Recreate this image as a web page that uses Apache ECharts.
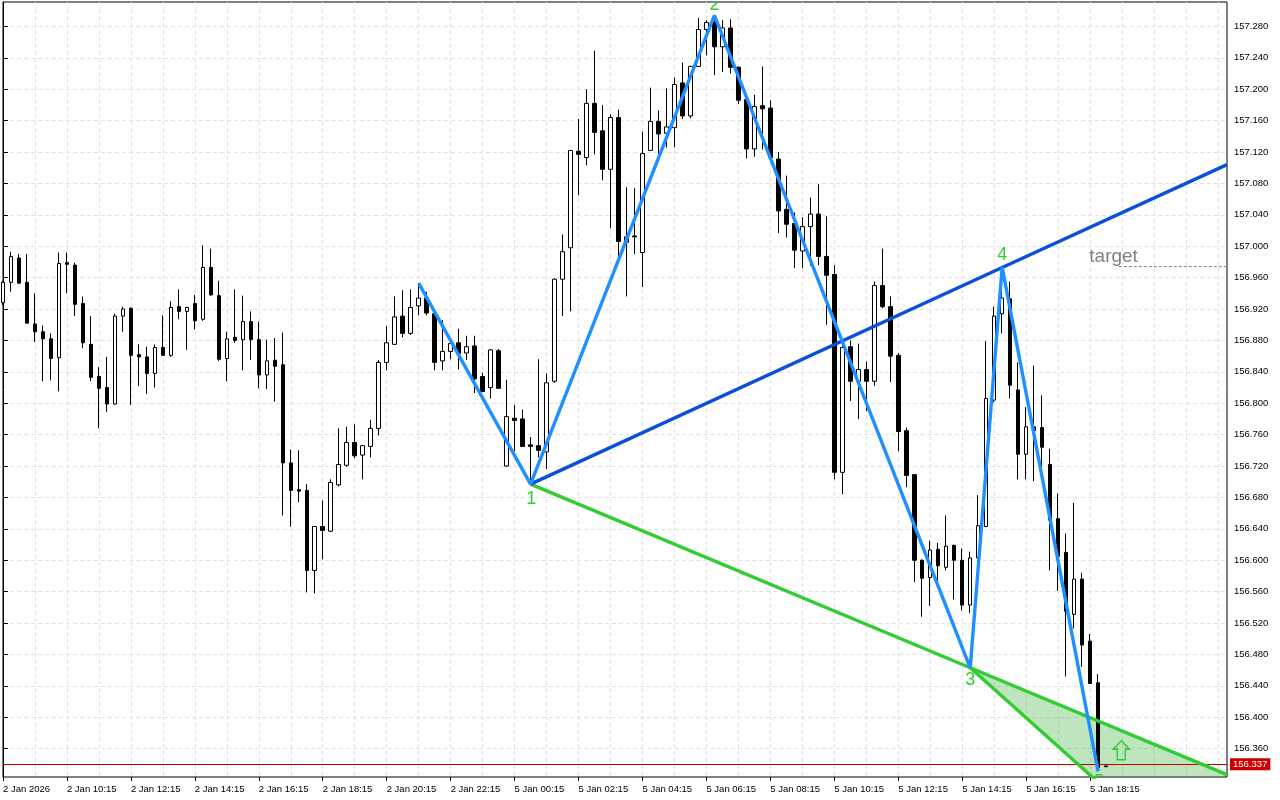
<!DOCTYPE html>
<html>
<head>
<meta charset="UTF-8" />
<script src="https://cdn.jsdelivr.net/npm/echarts@6/dist/echarts.min.js"></script>
<style>
  html, body { margin: 0; padding: 0; background: #fff; }
  #chart { width: 1280px; height: 800px; }
</style>
</head>
<body>
<div id="chart"></div>
<script>
// 15 minute bars, one entry per bar
var opens = [
  156.928,156.954,156.985,156.954,156.901,156.891,156.882,156.858,156.979,156.976,
  156.927,156.875,156.834,156.820,156.799,156.911,156.921,156.862,156.859,156.838,
  156.871,156.861,156.923,156.917,156.927,156.907,156.973,156.937,156.857,156.884,
  156.881,156.904,156.881,156.836,156.855,156.849,156.724,156.690,156.689,156.587,
  156.643,156.637,156.696,156.721,156.750,156.734,156.745,156.768,156.852,156.875,
  156.911,156.889,156.924,156.934,156.914,156.854,156.866,156.877,156.864,156.873,
  156.834,156.820,156.867,156.720,156.781,156.780,156.747,156.746,156.738,156.828,
  156.958,156.998,157.121,157.113,157.182,157.147,157.098,157.164,157.005,157.013,
  156.992,157.122,157.159,157.144,157.151,157.208,157.166,157.229,157.276,157.285,
  157.254,157.278,157.228,157.187,157.124,157.179,157.176,157.111,157.047,157.029,
  156.994,157.025,157.041,156.987,156.964,156.712,156.872,156.828,156.843,156.828,
  156.950,156.923,156.861,156.765,156.709,156.600,156.578,156.614,156.591,156.619,
  156.600,156.543,156.603,156.643,156.804,156.914,156.933,156.817,156.735,156.770,
  156.769,156.722,156.653,156.610,156.531,156.576,156.497,156.444,156.338
];
var highs = [
  156.956,156.993,156.990,156.990,156.940,156.899,156.889,156.992,156.992,156.979,
  156.936,156.911,156.846,156.859,156.914,156.923,156.922,156.875,156.872,156.875,
  156.912,156.930,156.945,156.923,156.938,157.001,156.997,156.956,156.891,156.945,
  156.937,156.917,156.904,156.881,156.883,156.890,156.741,156.740,156.697,156.643,
  156.676,156.703,156.768,156.770,156.773,156.747,156.779,156.855,156.898,156.936,
  156.944,156.945,156.953,156.942,156.914,156.906,156.883,156.895,156.886,156.886,
  156.839,156.869,156.869,156.830,156.798,156.792,156.757,156.856,156.838,156.959,
  157.015,157.122,157.162,157.200,157.249,157.180,157.168,157.174,157.075,157.074,
  157.146,157.202,157.173,157.201,157.215,157.234,157.230,157.291,157.288,157.294,
  157.288,157.289,157.229,157.187,157.193,157.229,157.186,157.120,157.090,157.043,
  157.037,157.062,157.079,157.038,156.976,156.876,156.880,156.876,156.853,156.955,
  156.997,156.936,156.864,156.769,156.710,156.601,156.625,156.622,156.657,156.620,
  156.615,156.611,156.683,156.879,156.923,156.948,156.955,156.852,156.795,156.848,
  156.810,156.742,156.685,156.634,156.673,156.584,156.506,156.455,156.338
];
var lows = [
  156.925,156.942,156.952,156.902,156.878,156.828,156.829,156.815,156.940,156.911,
  156.870,156.828,156.768,156.789,156.798,156.891,156.798,156.822,156.812,156.820,
  156.861,156.859,156.907,156.868,156.894,156.905,156.937,156.854,156.828,156.877,
  156.842,156.855,156.819,156.818,156.802,156.657,156.643,156.674,156.559,156.558,
  156.601,156.636,156.694,156.719,156.730,156.703,156.731,156.759,156.842,156.875,
  156.884,156.887,156.912,156.912,156.842,156.842,156.856,156.843,156.855,156.813,
  156.814,156.806,156.819,156.719,156.739,156.745,156.697,156.731,156.716,156.826,
  156.911,156.917,157.065,157.103,157.117,157.084,157.023,156.987,156.936,156.990,
  156.948,157.122,157.117,157.126,157.126,157.162,157.163,157.229,157.243,157.218,
  157.222,157.220,157.181,157.112,157.114,157.123,157.112,157.017,157.011,156.972,
  156.972,156.975,156.976,156.900,156.703,156.684,156.803,156.780,156.790,156.822,
  156.921,156.827,156.739,156.693,156.572,156.528,156.542,156.572,156.587,156.550,
  156.536,156.533,156.602,156.642,156.801,156.889,156.806,156.703,156.703,156.701,
  156.704,156.587,156.561,156.452,156.513,156.464,156.443,156.336,156.337
];
var closes = [
  156.954,156.987,156.953,156.902,156.891,156.882,156.857,156.978,156.977,156.926,
  156.877,156.833,156.819,156.799,156.911,156.920,156.861,156.859,156.838,156.871,
  156.861,156.922,156.917,156.922,156.905,156.973,156.938,156.856,156.882,156.880,
  156.904,156.881,156.836,156.854,156.847,156.724,156.689,156.688,156.587,156.643,
  156.638,156.699,156.722,156.750,156.733,156.746,156.768,156.852,156.877,156.910,
  156.889,156.922,156.934,156.915,156.852,156.866,156.876,156.863,156.872,156.831,
  156.815,156.868,156.819,156.783,156.778,156.745,156.745,156.740,156.826,156.958,
  156.993,157.122,157.117,157.182,157.145,157.098,157.164,157.006,157.012,157.012,
  157.118,157.159,157.143,157.152,157.206,157.166,157.229,157.276,157.285,157.254,
  157.278,157.228,157.186,157.124,157.178,157.175,157.113,157.045,157.028,156.995,
  157.025,157.041,156.987,156.963,156.712,156.871,156.828,156.843,156.828,156.950,
  156.923,156.860,156.764,156.708,156.600,156.577,156.613,156.593,156.618,156.600,
  156.543,156.603,156.644,156.806,156.911,156.934,156.823,156.735,156.770,156.765,
  156.744,156.651,156.605,156.535,156.576,156.492,156.443,156.336,156.337
];

// bottom axis text, one per 8 bars
var timeLabels = [
  '2 Jan 2026','2 Jan 10:15','2 Jan 12:15','2 Jan 14:15','2 Jan 16:15','2 Jan 18:15',
  '2 Jan 20:15','2 Jan 22:15','5 Jan 00:15','5 Jan 02:15','5 Jan 04:15','5 Jan 06:15',
  '5 Jan 08:15','5 Jan 10:15','5 Jan 12:15','5 Jan 14:15','5 Jan 16:15','5 Jan 18:15'
];
var priceTicks = [
  156.36,156.40,156.44,156.48,156.52,156.56,156.60,156.64,156.68,156.72,156.76,156.80,
  156.84,156.88,156.92,156.96,157.00,157.04,157.08,157.12,157.16,157.20,157.24,157.28
];
var labelBars = timeLabels.map(function (t, i) { return i * 8; });
var gridBars = [];
for (var b = 0; b <= 152; b += 4) gridBars.push(b);

var currentPrice = 156.337;
var axisMinPrice = 156.3239;
var axisMaxPrice = 157.3111;
var lastBar = 153.125;

// wave points [bar, price]
var wavePoints = [[52,156.953],[66,156.697],[89,157.294],[121,156.463],[125,156.973],[137,156.331]];
var targetLine = [[66,156.697],[125,156.973],[153.125,157.104]];
var lowerLine = [[66,156.697],[121,156.463],[153.125,156.327]];
var closingLine = [[121,156.463],[139,156.299]];
var wedgeFill = [[121,156.463],[153.125,156.327],[153.125,156.299],[139,156.299]];
var targetDash = [[139.6,156.974],[153.125,156.974]];
var waveLabels = [[66.1,156.678,'1'],[89,157.307,'2'],[121,156.448,'3'],[125,156.989,'4'],[137.1,156.317,'5']];
var targetText = [[135.9,156.987,'target']];
var arrowPoint = [[139.9,156.358]];

var candleData = opens.map(function (o, i) { return [i, o, closes[i], lows[i], highs[i]]; });

var axisFont = 'Liberation Sans';
var axisFontSize = 9.5;

function lineSeries(points, color, width, z, dash) {
  return {
    type: 'line', data: points, symbol: 'none', silent: true, animation: false, z: z,
    lineStyle: { color: color, width: width, type: dash || 'solid' }
  };
}
function textSeries(rows, color, size, align) {
  return {
    type: 'custom', data: rows, silent: true, animation: false, clip: true, z: 8,
    encode: { x: 0, y: 1 },
    renderItem: function (params, api) {
      var p = api.coord([api.value(0), api.value(1)]);
      return {
        type: 'text',
        style: {
          x: p[0], y: p[1], text: rows[params.dataIndex][2], fill: color,
          font: size + 'px "Liberation Sans"', align: align, verticalAlign: 'middle'
        }
      };
    }
  };
}

var chart = echarts.init(document.getElementById('chart'), null, { renderer: 'canvas' });
chart.setOption({
  animation: false,
  backgroundColor: '#fff',
  grid: { left: 2, top: 2, width: 1225, height: 775, show: true, borderColor: '#000', borderWidth: 1, backgroundColor: '#fff' },
  xAxis: [{
    type: 'value', min: 0, max: lastBar, position: 'bottom',
    axisLine: { show: false },
    axisTick: { length: 4, lineStyle: { color: '#000' }, customValues: labelBars },
    axisLabel: {
      customValues: labelBars, align: 'left', margin: 7, color: '#000', fontFamily: axisFont, fontSize: axisFontSize,
      formatter: function (v) { return timeLabels[v / 8]; }
    },
    splitLine: { show: false }
  }, {
    // only carries the vertical dashed grid, every 4 bars
    type: 'value', min: 0, max: lastBar, position: 'top',
    axisLine: { show: false },
    axisTick: { show: false, customValues: gridBars },
    axisLabel: { show: false },
    splitLine: { show: true, lineStyle: { color: '#E2E2E2', type: [4, 3], width: 1 } }
  }],
  yAxis: {
    type: 'value', position: 'right', min: axisMinPrice, max: axisMaxPrice,
    axisLine: { show: true, lineStyle: { color: '#000' } },
    axisTick: { show: true, length: 5, lineStyle: { color: '#000' }, customValues: priceTicks },
    axisLabel: {
      customValues: priceTicks, margin: 7, color: '#000', fontFamily: axisFont, fontSize: axisFontSize,
      formatter: function (v) { return v.toFixed(3); }
    },
    splitLine: { show: true, lineStyle: { color: '#E2E2E2', type: [4, 3], width: 1 } }
  },
  series: [
    {
      type: 'custom', data: wedgeFill, silent: true, animation: false, clip: true, z: 1,
      encode: { x: 0, y: 1 },
      renderItem: function (params, api) {
        if (params.dataIndex !== 0) return;
        return {
          type: 'polygon',
          shape: { points: wedgeFill.map(function (p) { return api.coord(p); }) },
          style: { fill: 'rgba(40,170,40,0.3)' }
        };
      }
    },
    {
      type: 'candlestick', data: candleData, barWidth: 4, silent: true, animation: false, z: 3,
      encode: { x: 0, y: [1, 2, 3, 4] },
      itemStyle: { color: '#fff', color0: '#000', borderColor: '#000', borderColor0: '#000', borderWidth: 1 },
      markLine: {
        silent: true, symbol: 'none', animation: false,
        lineStyle: { color: '#CC0000', type: 'solid', width: 1 },
        label: {
          position: 'end', distance: 3, color: '#fff', backgroundColor: '#CC0000',
          padding: [1, 3], fontFamily: axisFont, fontSize: axisFontSize,
          formatter: function () { return currentPrice.toFixed(3); }
        },
        data: [{ yAxis: currentPrice }]
      }
    },
    lineSeries(targetDash, '#808080', 1, 4, [3, 2]),
    lineSeries(lowerLine, '#32CD32', 3.4, 5),
    lineSeries(closingLine, '#32CD32', 3.4, 5),
    lineSeries(targetLine, '#0B50D8', 3.4, 5),
    lineSeries(wavePoints, '#1E90FF', 3.4, 6),
    {
      type: 'scatter', data: arrowPoint, silent: true, animation: false, z: 7,
      symbol: 'path://M8 0 L16 8 L12 8 L12 18 L4 18 L4 8 L0 8 Z', symbolSize: [16, 19],
      itemStyle: { color: 'rgba(0,0,0,0)', borderColor: '#32CD32', borderWidth: 1.5, opacity: 1 }
    },
    textSeries(waveLabels, '#32CD32', 18, 'center'),
    textSeries(targetText, '#808080', 19, 'left')
  ]
});
</script>
</body>
</html>
